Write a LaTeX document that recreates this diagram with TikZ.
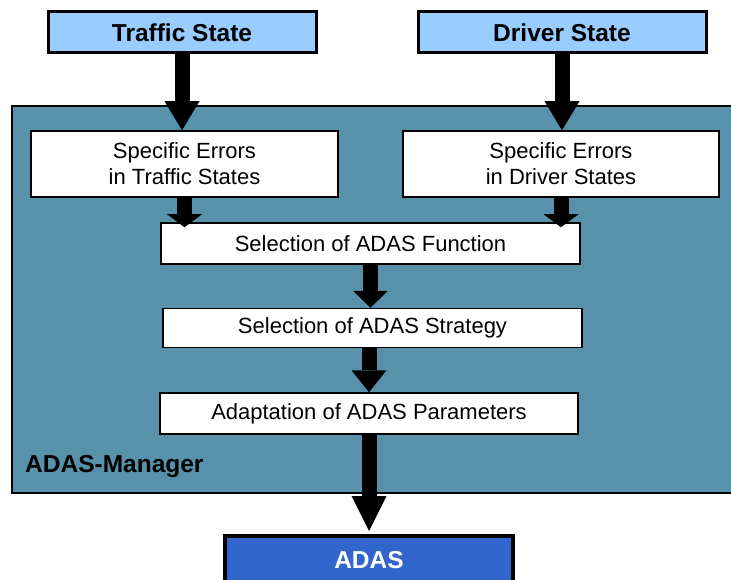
\documentclass[tikz,border=0pt]{standalone}
\usepackage{fontspec}
\setmainfont{Liberation Sans}
\usetikzlibrary{arrows.meta}
\definecolor{stateblue}{RGB}{153,204,255}
\definecolor{mgrteal}{RGB}{88,145,170}
\definecolor{adasblue}{RGB}{51,102,204}
\begin{document}
\begin{tikzpicture}[x=1pt,y=-1pt,
  regtext/.style={font=\fontsize{22}{26}\selectfont},
  boldtext/.style={font=\bfseries\fontsize{24.5}{28}\selectfont},
  statebox/.style={draw=black, line width=3pt, fill=stateblue, inner sep=0pt, boldtext},
  stagebox/.style={draw=black, line width=1.5pt, fill=white, inner sep=0pt, align=center, regtext},
  bigarrow/.style={line width=15pt, draw=black,
    -{Triangle[width=35pt,length=#1,line width=0pt]}},
]
\useasboundingbox (0,0) rectangle (731,580);

% ADAS-Manager container
\node[draw=black, line width=2pt, fill=mgrteal, minimum width=733pt, minimum height=387pt, inner sep=0pt]
  (mgr) at (378.5,299.5) {};
\node[boldtext, anchor=base west, inner sep=0pt] (mgrlabel) at (25,472) {ADAS-Manager};

% input states
\node[statebox, minimum width=268pt, minimum height=41pt] (traffic) at (182,32.5) {Traffic State};
\node[statebox, minimum width=288pt, minimum height=41pt] (driver) at (562,32.5) {Driver State};

% processing stages
\node[stagebox, minimum width=307pt, minimum height=66pt] (errT) at (184.5,164) {Specific Errors\\in Traffic States};
\node[stagebox, minimum width=316pt, minimum height=66pt] (errD) at (561,164) {Specific Errors\\in Driver States};
\node[stagebox, minimum width=419pt, minimum height=41pt] (func) at (370.5,243.5) {Selection of ADAS Function};
\node[stagebox, minimum width=419pt, minimum height=39pt] (strat) at (372.5,328) {Selection of ADAS Strategy};
\node[stagebox, minimum width=418pt, minimum height=41pt] (param) at (369,413.5) {Adaptation of ADAS Parameters};

% output
\node[draw=black, line width=4pt, fill=adasblue, text=white, boldtext, inner sep=0pt,
  minimum width=288pt, minimum height=48pt] (adas) at (369,560) {ADAS};

% flow arrows
\draw[bigarrow=29pt] (traffic.south) -- (traffic.south |- errT.north);
\draw[bigarrow=29pt] (driver.south) -- (driver.south |- errD.north);
\draw[bigarrow=13pt, shorten >=-5pt] (errT.south) -- (errT.south |- func.north);
\draw[bigarrow=13pt, shorten >=-5pt] (errD.south) -- (errD.south |- func.north);
\draw[bigarrow=17pt] (func.south) -- (func.south |- strat.north);
\draw[bigarrow=22pt] (strat.south -| param.south) -- (param.north);
\draw[bigarrow=35pt, shorten >=3pt] (param.south) -- (adas.north);
\end{tikzpicture}
\end{document}
